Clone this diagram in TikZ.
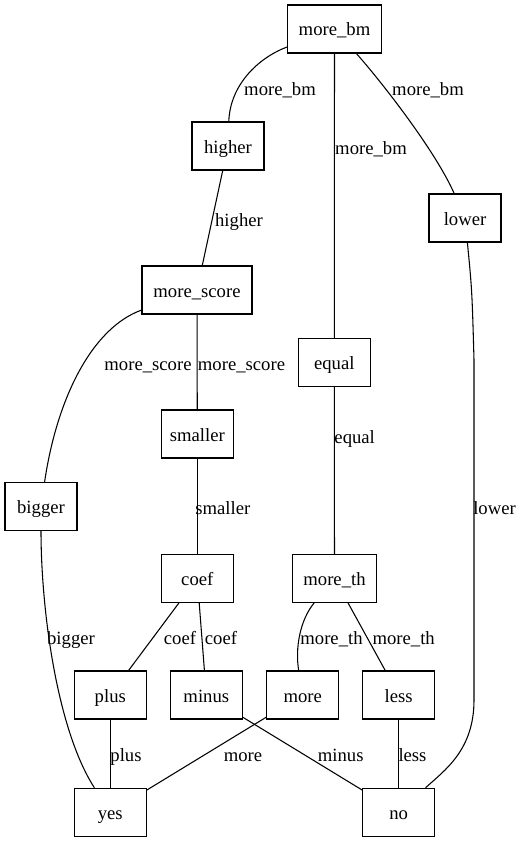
\documentclass[tikz,border=0pt]{standalone}
\usepackage{fontspec}
\setmainfont{Liberation Serif}
\begin{document}
\begin{tikzpicture}[x=0.75pt,y=-0.75pt,
  box/.style={draw,rectangle,line width=0.8pt,minimum width=54pt,minimum height=36pt,inner sep=2pt,text height=13.5pt,text depth=3pt,font=\fontsize{14pt}{16pt}\selectfont},
  lbl/.style={inner sep=0pt,yshift=-2.2pt,font=\fontsize{14pt}{16pt}\selectfont,text height=1.5ex,text depth=.25ex},
  edge/.style={line width=0.8pt}]
\useasboundingbox[fill=white] (0,0) rectangle (521,842);
% nodes
\node[box,minimum width=70.5pt] (morebm) at (334.5,29) {more\_bm};
\node[box] (higher) at (228,146) {higher};
\node[box] (lower) at (465,218) {lower};
\node[box,minimum width=82.5pt] (morescore) at (197,290) {more\_score};
\node[box] (equal) at (334.3,362.3) {equal};
\node[box] (smaller) at (197.3,434) {smaller};
\node[box] (bigger) at (41,506.3) {bigger};
\node[box] (coef) at (197.3,578.3) {coef};
\node[box,minimum width=63pt] (moreth) at (334.5,578.3) {more\_th};
\node[box] (plus) at (110.3,695) {plus};
\node[box] (minus) at (206.3,695) {minus};
\node[box] (more) at (302.7,695) {more};
\node[box] (less) at (398.7,695) {less};
\node[box] (yes) at (110.3,812.3) {yes};
\node[box] (no) at (398.7,812.3) {no};
% edges
\draw[edge] (morebm) .. controls (258,58) and (230,85) .. (higher);
\draw[edge] (morebm) -- (equal);
\draw[edge] (morebm) .. controls (380,80) and (435,150) .. (lower);
\draw[edge] (higher) -- (morescore);
\draw[edge] (morescore) -- (smaller);
\draw[edge] (morescore) .. controls (92,328) and (57,398) .. (bigger);
\draw[edge] (bigger) .. controls (41,610) and (57,730) .. (yes);
\draw[edge] (smaller) -- (coef);
\draw[edge] (equal) -- (moreth);
\draw[edge] (coef) -- (plus);
\draw[edge] (coef) -- (minus);
\draw[edge] (moreth) .. controls (300,620) and (295,648) .. (more);
\draw[edge] (moreth) -- (less);
\draw[edge] (plus) -- (yes);
\draw[edge] (less) -- (no);
\draw[edge] (minus) -- (no);
\draw[edge] (more) -- (yes);
\draw[edge] (lower) .. controls (472,290) .. (474,360) -- (474,700) .. controls (474,750) and (445,770) .. (no);
% labels
\node[lbl] (l1) at (280,89) {more\_bm};
\node[lbl] (l2) at (371,148) {more\_bm};
\node[lbl] (l3) at (428,89) {more\_bm};
\node[lbl] (l4) at (239,220) {higher};
\node[lbl] (l5) at (148,364) {more\_score};
\node[lbl] (l6) at (241.5,364) {more\_score};
\node[lbl] (l7) at (354.7,437) {equal};
\node[lbl] (l8) at (222.8,508) {smaller};
\node[lbl] (l9) at (494.5,508) {lower};
\node[lbl] (l10) at (71,638) {bigger};
\node[lbl] (l11) at (180,638) {coef};
\node[lbl] (l12) at (221,638) {coef};
\node[lbl] (l13) at (331.5,638) {more\_th};
\node[lbl] (l14) at (403.7,638) {more\_th};
\node[lbl] (l15) at (126,755) {plus};
\node[lbl] (l16) at (243,755) {more};
\node[lbl] (l17) at (340.7,755) {minus};
\node[lbl] (l18) at (412.5,755) {less};
\end{tikzpicture}
\end{document}
